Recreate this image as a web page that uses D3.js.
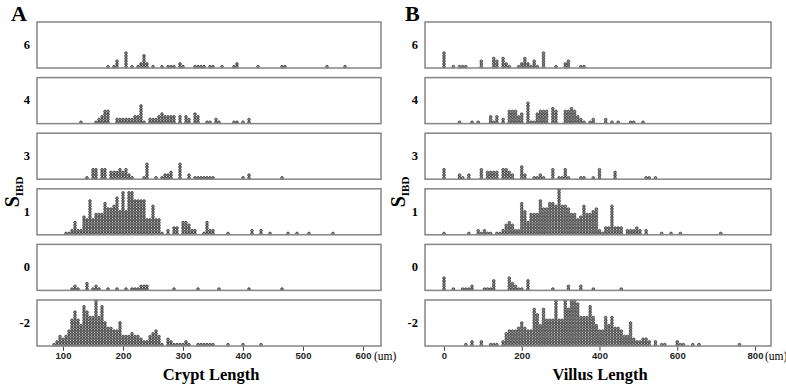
<!DOCTYPE html>
<html><head><meta charset="utf-8">
<script src="https://cdn.jsdelivr.net/npm/d3@7"></script>
<style>body{margin:0;background:#fff}svg{display:block}</style>
</head><body><svg id="c" width="786" height="384"></svg>
<script>
// ---------- data ----------
const sibdLevels = ["6","4","3","1","0","-2"];
const cryptTicks = [100,200,300,400,500,600];
const villusTicks = [0,200,400,600,800];
const cryptBinWidth = 5;   // um
const villusBinWidth = 8;  // um

// Crypt length histograms: [bin centre (um), count]
const cryptS6 = [[175,1],[185,1],[190,3],[205,6],[215,1],[225,1],[230,2],[235,5],[240,2],[250,1],[265,1],[275,1],[280,1],[285,1],[295,2],[300,1],[320,1],[325,1],[330,1],[335,1],[345,1],[350,1],[365,1],[385,1],[390,2],[425,1],[465,1],[470,1],[540,1],[570,1]];
const cryptS4 = [[130,1],[155,1],[160,2],[165,3],[170,5],[175,5],[190,2],[195,2],[200,2],[205,2],[210,2],[215,2],[220,3],[225,3],[230,7],[235,1],[245,2],[250,2],[255,2],[260,3],[265,4],[270,3],[275,3],[280,3],[285,3],[295,3],[305,3],[310,2],[320,4],[325,3],[340,1],[345,1],[355,2],[360,1],[385,1],[390,1],[400,1],[410,2]];
const cryptS3 = [[140,1],[150,4],[155,4],[165,4],[170,4],[180,3],[185,3],[190,3],[195,4],[200,3],[205,4],[210,2],[215,1],[235,1],[240,6],[255,1],[265,1],[270,2],[275,2],[280,3],[295,6],[310,2],[320,1],[325,1],[330,1],[335,1],[340,1],[345,1],[350,1],[400,1],[410,2],[465,1]];
const cryptS1 = [[105,1],[110,1],[115,2],[120,5],[125,2],[130,2],[135,7],[140,6],[145,13],[150,6],[155,8],[160,8],[165,8],[170,12],[175,10],[180,10],[185,11],[190,14],[195,9],[200,16],[205,9],[210,16],[215,16],[220,13],[225,13],[230,13],[235,13],[240,6],[245,6],[250,11],[255,6],[260,6],[265,1],[275,2],[285,3],[290,3],[300,5],[305,5],[310,4],[315,2],[320,2],[335,1],[340,5],[345,2],[350,2],[375,1],[415,2],[430,2],[445,1],[475,1],[490,1],[510,1],[550,1]];
const cryptS0 = [[115,1],[120,2],[125,1],[140,3],[150,1],[155,2],[160,1],[175,1],[190,1],[205,1],[215,1],[220,1],[225,1],[230,2],[235,2],[240,2],[285,1],[325,1],[360,1],[410,1],[465,1]];
const cryptSm2 = [[85,1],[90,2],[95,4],[100,3],[105,4],[110,6],[115,10],[120,13],[125,10],[130,8],[135,15],[140,13],[145,11],[150,11],[155,17],[160,11],[165,15],[170,9],[175,7],[180,7],[185,6],[190,6],[195,9],[200,4],[205,4],[210,4],[215,5],[220,4],[225,4],[230,3],[235,2],[240,2],[245,4],[250,5],[255,6],[260,4],[265,1],[275,3],[280,2],[285,1],[290,1],[295,1],[300,1],[305,2],[310,1],[325,1],[330,1],[335,1],[340,1],[345,1],[350,1],[375,1],[400,1],[430,1]];

// Villus length histograms: [bin centre (um), count]
const villusS6 = [[0,6],[24,1],[40,1],[48,1],[56,1],[96,3],[128,4],[136,3],[152,4],[160,2],[168,1],[192,1],[200,2],[208,4],[216,2],[224,1],[232,3],[240,1],[256,6],[288,1],[312,2],[320,3],[352,1],[360,1]];
const villusS4 = [[40,1],[72,1],[88,1],[120,3],[128,1],[136,3],[152,2],[168,5],[176,5],[184,5],[192,3],[200,4],[216,8],[224,1],[232,1],[240,4],[248,5],[256,5],[264,5],[280,6],[288,5],[312,5],[320,5],[328,6],[336,5],[344,3],[352,2],[360,1],[376,1],[384,2],[416,2],[432,1],[448,1],[480,1],[488,1],[512,1]];
const villusS3 = [[0,4],[40,2],[48,1],[64,2],[96,4],[112,3],[120,3],[128,3],[136,3],[152,4],[160,4],[168,3],[176,2],[200,5],[208,2],[232,1],[240,1],[248,2],[256,1],[280,4],[296,1],[304,1],[312,4],[320,1],[352,1],[360,1],[384,1],[400,4],[440,3],[520,1],[528,1],[544,1]];
const villusS1 = [[0,1],[64,1],[88,2],[96,1],[104,2],[112,1],[120,1],[136,1],[144,1],[152,2],[160,4],[168,5],[176,4],[184,2],[192,2],[200,12],[208,9],[216,5],[224,8],[232,8],[240,8],[248,13],[256,10],[264,10],[272,12],[280,12],[288,11],[296,17],[304,11],[312,11],[320,10],[328,8],[336,8],[344,6],[352,7],[360,11],[368,8],[376,8],[384,9],[392,10],[400,2],[408,1],[416,3],[424,3],[432,11],[440,3],[448,3],[456,3],[472,2],[480,2],[488,2],[496,3],[504,2],[520,2],[560,1],[584,1],[608,1],[712,1]];
const villusS0 = [[0,5],[24,1],[48,1],[56,1],[64,1],[72,2],[104,1],[112,1],[120,1],[128,4],[168,5],[176,3],[184,2],[192,1],[200,1],[216,4],[280,1],[320,2],[352,2],[384,1],[456,1]];
const villusSm2 = [[56,1],[72,2],[96,2],[120,1],[128,1],[136,1],[152,2],[160,5],[168,6],[176,6],[184,6],[192,7],[200,9],[208,7],[216,6],[224,6],[232,14],[240,12],[248,8],[256,14],[264,10],[272,10],[280,10],[288,17],[296,10],[304,10],[312,17],[320,14],[328,17],[336,17],[344,16],[352,11],[360,11],[368,11],[376,15],[384,11],[392,8],[400,6],[408,6],[416,11],[424,8],[432,11],[440,7],[448,7],[456,6],[464,4],[472,4],[480,9],[488,3],[496,2],[504,2],[512,3],[520,3],[528,2],[544,2],[560,1],[568,1],[600,2],[608,1],[616,1],[640,1],[656,1],[760,1]];

const cryptRows = [cryptS6, cryptS4, cryptS3, cryptS1, cryptS0, cryptSm2];
const villusRows = [villusS6, villusS4, villusS3, villusS1, villusS0, villusSm2];

// ---------- drawing ----------
const svg = d3.select("#c");
const serif = "'Liberation Serif','Times New Roman',serif";
const sans = "'Liberation Sans',Arial,sans-serif";

const rowScale = d3.scaleBand().domain(sibdLevels).range([22, 346]).paddingInner(0.1727);
const band = rowScale.bandwidth();
const countScale = d3.scaleLinear().domain([0, 17]).range([band, 0]);

const panels = [
  {letter:"A", rows:cryptRows, ticks:cryptTicks, title:"Crypt Length",
   x:d3.scaleLinear().domain([56.67, 630]).range([37, 381]),
   letterX:11, labelX:30, ylabX:13, unitX:374},
  {letter:"B", rows:villusRows, ticks:villusTicks, title:"Villus Length",
   x:d3.scaleLinear().domain([-48.9, 841.2]).range([425, 771]),
   letterX:405, labelX:418, ylabX:399, unitX:765}
];

panels.forEach(p => {
  const g = svg.append("g");
  const [x0, x1] = p.x.range();

  g.append("text").attr("x", p.letterX).attr("y", 21)
    .attr("font-family", serif).attr("font-weight", "bold").attr("font-size", 22)
    .text(p.letter);

  sibdLevels.forEach((lev, i) => {
    const top = rowScale(lev);
    const rg = g.append("g").attr("transform", `translate(0,${top})`);
    const dots = [];
    p.rows[i].forEach(([v, n]) => { for (let k = 0; k < n; k++) dots.push({v, k}); });
    rg.selectAll("circle").data(dots).join("circle")
      .attr("cx", d => p.x(d.v))
      .attr("cy", d => countScale(d.k + 0.5))
      .attr("r", 1.35)
      .attr("fill", "#8c8c8c")
      .attr("stroke", "#2e2e2e")
      .attr("stroke-width", 0.7);
    rg.append("rect").attr("x", x0).attr("y", 0).attr("width", x1 - x0).attr("height", band)
      .attr("fill", "none").attr("stroke", "#858585").attr("stroke-width", 1.5);
    g.append("text").attr("x", p.labelX).attr("y", top + band / 2 + 1)
      .attr("text-anchor", "end").attr("dominant-baseline", "middle")
      .attr("font-family", serif).attr("font-weight", "bold").attr("font-size", 12.5)
      .text(lev);
  });

  const bottom = rowScale(sibdLevels[sibdLevels.length - 1]) + band;
  const ax = g.append("g").attr("transform", `translate(0,${bottom + 0.75})`)
    .call(d3.axisBottom(p.x).tickValues(p.ticks).tickSize(4).tickPadding(2).tickFormat(d3.format("d")));
  ax.select(".domain").remove();
  ax.selectAll(".tick line").attr("stroke", "#444");
  ax.selectAll(".tick text").attr("font-family", sans).attr("font-weight", "bold")
    .attr("font-size", 9.5).attr("fill", "#222");

  g.append("text").attr("x", p.unitX).attr("y", 360)
    .attr("font-family", serif).attr("font-size", 11.5).text("(um)");

  g.append("text").attr("x", (x0 + x1) / 2 + 2).attr("y", 380)
    .attr("text-anchor", "middle")
    .attr("font-family", serif).attr("font-weight", "bold").attr("font-size", 16.5)
    .text(p.title);

  const yl = g.append("text")
    .attr("transform", `translate(${p.ylabX + 6},192) rotate(-90)`)
    .attr("text-anchor", "middle")
    .attr("font-family", serif).attr("font-weight", "bold");
  yl.append("tspan").attr("font-size", 20).text("S");
  yl.append("tspan").attr("font-size", 11).attr("dy", 4).text("IBD");
});
</script></body></html>
